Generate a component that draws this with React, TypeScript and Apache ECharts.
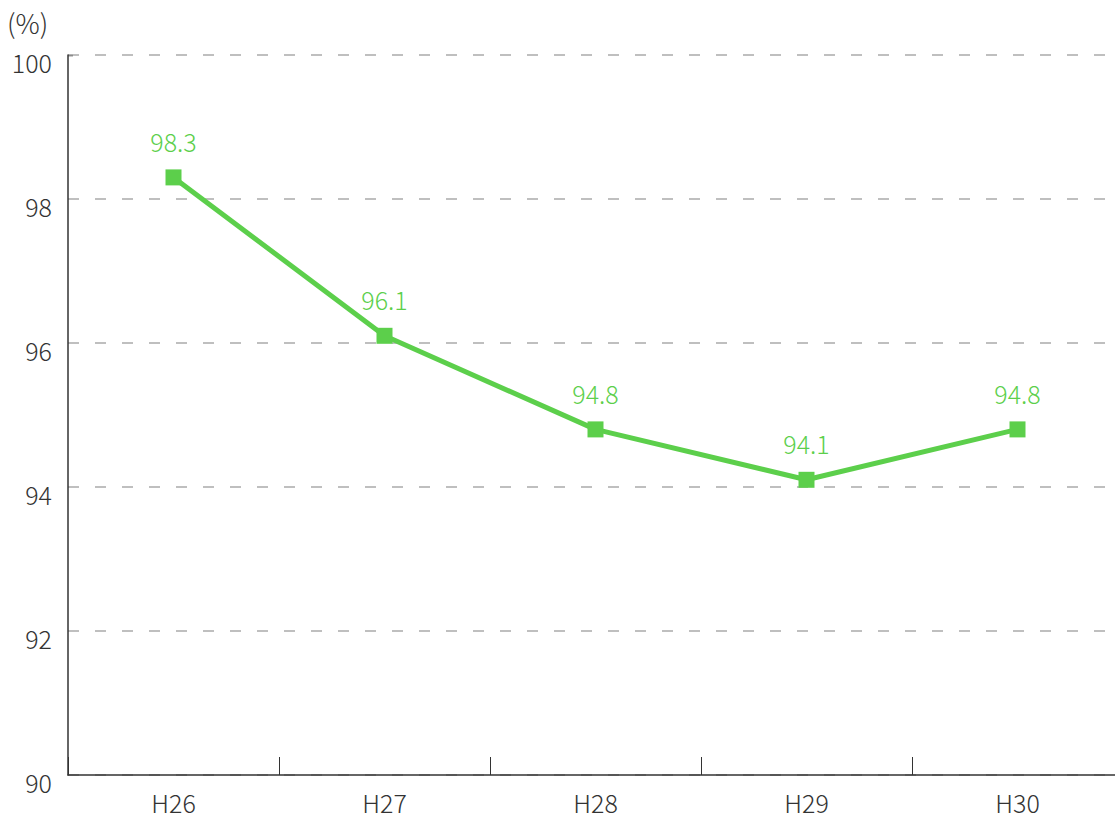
import React, { useEffect, useRef } from "react";
import * as echarts from "echarts";

const categories = ["H26", "H27", "H28", "H29", "H30"];
const values = [98.3, 96.1, 94.8, 94.1, 94.8];
const unitLabel = "(%)";

const FONT = "'Noto Sans CJK JP', 'Noto Sans', sans-serif";

export default function App() {
  const ref = useRef<HTMLDivElement>(null);
  useEffect(() => {
    const chart = echarts.init(ref.current!, undefined, { renderer: "svg" });
    chart.setOption({
      animation: false,
      textStyle: { fontFamily: FONT },
      grid: { left: 68, top: 55, bottom: 41, right: 0, containLabel: false },
      graphic: [
        {
          type: "text",
          left: 7,
          top: 9,
          style: { text: unitLabel, fontSize: 27, fill: "#333", fontFamily: FONT, fontWeight: 300, letterSpacing: 1 },
        },
        {
          type: "line",
          shape: { x1: 68, y1: 55.5, x2: 73, y2: 55.5 },
          style: { stroke: "#333", lineWidth: 1.5 },
        },
      ],
      xAxis: {
        type: "category",
        data: categories,
        boundaryGap: true,
        axisLine: { lineStyle: { color: "#333", width: 1.5 } },
        axisTick: { show: true, inside: true, length: 18, lineStyle: { color: "#333", width: 1 } },
        axisLabel: {
          fontSize: 25,
          color: "#333",
          margin: 17,
          fontFamily: FONT,
          fontWeight: 300,
          verticalAlign: "top",
          lineHeight: 20,
        },
      },
      yAxis: {
        type: "value",
        min: 90,
        max: 100,
        interval: 2,
        axisLine: { show: true, lineStyle: { color: "#333", width: 1.5 } },
        axisTick: { show: false },
        axisLabel: {
          fontSize: 25,
          color: "#333",
          margin: 16,
          fontFamily: FONT,
          fontWeight: 300,
          verticalAlign: "top",
          lineHeight: 14,
        },
        splitLine: { show: true, lineStyle: { color: "#aaa", width: 1.5, type: [11, 16] } },
      },
      series: [
        {
          type: "line",
          data: values,
          symbol: "rect",
          symbolSize: 16,
          lineStyle: { color: "#5ccf4b", width: 5 },
          itemStyle: { color: "#5ccf4b" },
          label: {
            show: true,
            position: "top",
            distance: 16,
            fontSize: 25,
            color: "#5ccf4b",
            fontFamily: FONT,
            fontWeight: 300,
            formatter: (p: any) => p.value.toFixed(1),
          },
        },
      ],
    });
    return () => chart.dispose();
  }, []);
  return (
    <div
      style={{ position: "fixed", left: 0, top: 0, width: 1115, height: 816, overflow: "hidden", background: "#fff" }}
    >
      <div ref={ref} style={{ width: 1123, height: 816 }} />
    </div>
  );
}
